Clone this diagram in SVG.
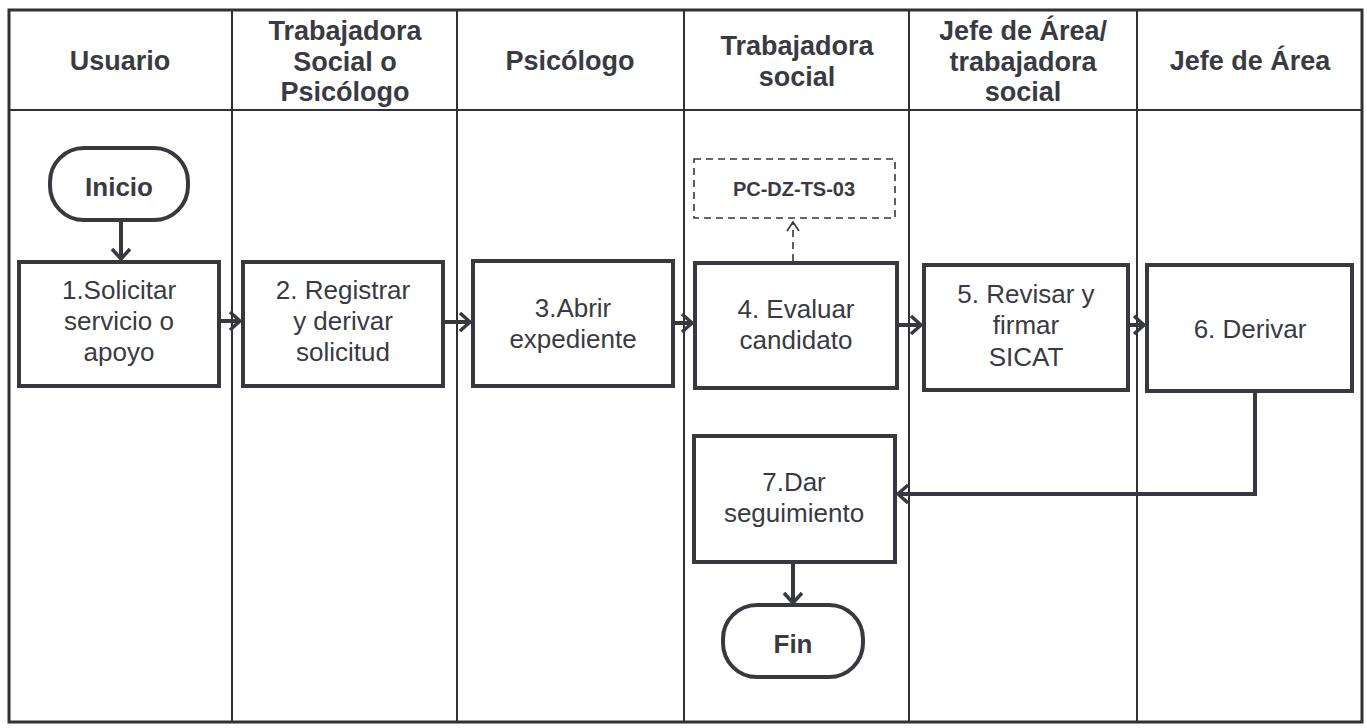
<svg xmlns="http://www.w3.org/2000/svg" width="1367" height="728" viewBox="0 0 1367 728">
<style>
.hdr{font-family:"Liberation Sans",Arial,sans-serif;font-weight:bold;font-size:27px;fill:#3a3a42;text-anchor:middle}
.txt{font-family:"Liberation Sans",Arial,sans-serif;font-size:26px;fill:#3a3a42;text-anchor:middle}
.bold{font-family:"Liberation Sans",Arial,sans-serif;font-weight:bold;font-size:26px;fill:#3a3a42;text-anchor:middle}
.ref{font-family:"Liberation Sans",Arial,sans-serif;font-weight:bold;font-size:20px;fill:#3a3a42;text-anchor:middle}
.box{fill:#ffffff;stroke:#383840;stroke-width:4}
.lane{stroke:#303036;stroke-width:2;fill:none}
.conn{stroke:#383840;stroke-width:4;fill:none}
.dash{stroke:#383840;stroke-width:1.6;fill:none;stroke-dasharray:7,5}
</style>
<defs>
<marker id="arr" markerUnits="userSpaceOnUse" viewBox="0 0 14 22" refX="12" refY="11" markerWidth="14" markerHeight="22" orient="auto">
<path d="M2,2 L12,11 L2,20" fill="none" stroke="#383840" stroke-width="3.5"/>
</marker>
<marker id="arrs" markerUnits="userSpaceOnUse" viewBox="0 0 12 14" refX="10" refY="7" markerWidth="12" markerHeight="14" orient="auto">
<path d="M1,1 L10,7 L1,13" fill="none" stroke="#383840" stroke-width="1.6"/>
</marker>
</defs>
<rect x="0" y="0" width="1367" height="728" fill="#ffffff"/>
<g id="lanes">
<rect x="9" y="10" width="1353" height="712" fill="none" stroke="#303036" stroke-width="3"/>
<line class="lane" x1="9" y1="110" x2="1362" y2="110"/>
<line class="lane" x1="232" y1="10" x2="232" y2="722"/>
<line class="lane" x1="457" y1="10" x2="457" y2="722"/>
<line class="lane" x1="684" y1="10" x2="684" y2="722"/>
<line class="lane" x1="909" y1="10" x2="909" y2="722"/>
<line class="lane" x1="1137" y1="10" x2="1137" y2="722"/>
<text class="hdr" x="120" y="70">Usuario</text>
<text class="hdr" x="345" y="40">Trabajadora</text>
<text class="hdr" x="345" y="71">Social o</text>
<text class="hdr" x="345" y="101">Psicólogo</text>
<text class="hdr" x="570" y="70">Psicólogo</text>
<text class="hdr" x="797" y="55">Trabajadora</text>
<text class="hdr" x="797" y="86">social</text>
<text class="hdr" x="1023" y="40">Jefe de Área/</text>
<text class="hdr" x="1023" y="71">trabajadora</text>
<text class="hdr" x="1023" y="101">social</text>
<text class="hdr" x="1250" y="70">Jefe de Área</text>
</g>
<g id="connectors">
<line class="conn" x1="121" y1="221" x2="121" y2="259" marker-end="url(#arr)"/>
<line class="conn" x1="221" y1="321" x2="240" y2="321" marker-end="url(#arr)"/>
<line class="conn" x1="445" y1="322" x2="470" y2="322" marker-end="url(#arr)"/>
<line class="conn" x1="675" y1="323" x2="692" y2="323" marker-end="url(#arr)"/>
<line class="conn" x1="899" y1="325" x2="921" y2="325" marker-end="url(#arr)"/>
<line class="conn" x1="1130" y1="325" x2="1144" y2="325" marker-end="url(#arr)"/>
<path class="conn" d="M1255,392 V494 H898" marker-end="url(#arr)"/>
<line class="conn" x1="793" y1="563" x2="793" y2="603" marker-end="url(#arr)"/>
<line class="dash" x1="793" y1="261" x2="793" y2="222" marker-end="url(#arrs)"/>
</g>
<g id="inicio">
<rect class="box" x="50" y="148" width="138" height="72" rx="34"/>
<text class="bold" x="119" y="196">Inicio</text>
</g>
<g id="n1">
<rect class="box" x="19" y="262" width="200" height="124"/>
<text class="txt" x="119" y="299">1.Solicitar</text>
<text class="txt" x="119" y="330">servicio o</text>
<text class="txt" x="119" y="361">apoyo</text>
</g>
<g id="n2">
<rect class="box" x="243" y="262" width="200" height="124"/>
<text class="txt" x="343" y="299">2. Registrar</text>
<text class="txt" x="343" y="330">y derivar</text>
<text class="txt" x="343" y="361">solicitud</text>
</g>
<g id="n3">
<rect class="box" x="473" y="261" width="200" height="125"/>
<text class="txt" x="573" y="317">3.Abrir</text>
<text class="txt" x="573" y="348">expediente</text>
</g>
<g id="n4">
<rect class="box" x="695" y="263" width="202" height="125"/>
<text class="txt" x="796" y="318">4. Evaluar</text>
<text class="txt" x="796" y="349">candidato</text>
</g>
<g id="ref">
<rect x="694" y="159" width="201" height="59" fill="#ffffff" stroke="#383840" stroke-width="1.6" stroke-dasharray="7,5"/>
<text class="ref" x="794" y="196">PC-DZ-TS-03</text>
</g>
<g id="n5">
<rect class="box" x="924" y="265" width="204" height="125"/>
<text class="txt" x="1026" y="303">5. Revisar y</text>
<text class="txt" x="1026" y="334">firmar</text>
<text class="txt" x="1026" y="366">SICAT</text>
</g>
<g id="n6">
<rect class="box" x="1147" y="265" width="205" height="126"/>
<text class="txt" x="1250" y="338">6. Derivar</text>
</g>
<g id="n7">
<rect class="box" x="694" y="436" width="201" height="126"/>
<text class="txt" x="794" y="491">7.Dar</text>
<text class="txt" x="794" y="522">seguimiento</text>
</g>
<g id="fin">
<rect class="box" x="723" y="605" width="140" height="72" rx="34"/>
<text class="bold" x="793" y="653">Fin</text>
</g>
</svg>
